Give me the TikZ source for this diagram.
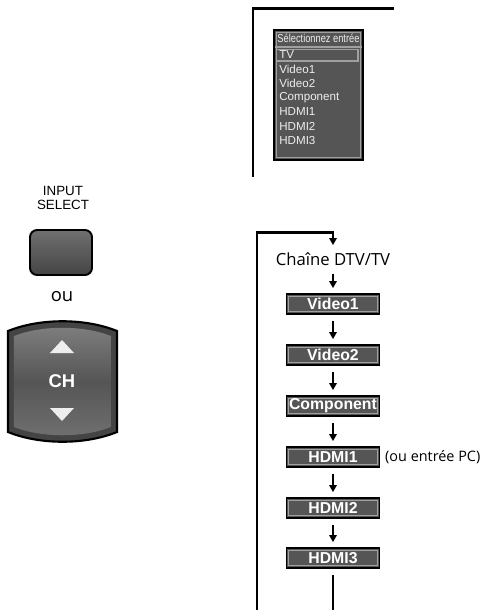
\documentclass[tikz,border=0pt]{standalone}
\usepackage{fontspec}
\setmainfont{Liberation Sans}
\newfontfamily\myriad{Open Sans}
\usetikzlibrary{arrows.meta,positioning,shapes.geometric}
\definecolor{panelgray}{RGB}{85,85,85}
\definecolor{edgegray}{RGB}{160,160,160}
\definecolor{keytop}{RGB}{112,112,112}
\definecolor{keybot}{RGB}{68,68,68}
\definecolor{menutext}{RGB}{238,238,238}

\begin{document}
\begin{tikzpicture}[x=0.02cm,y=-0.02cm,
  frame/.style={line width=1.7pt,line cap=rect},
  flow/.style={-{Triangle[length=4pt,width=4.2pt]},line width=1.2pt,
    shorten <=3.5pt,shorten >=3pt},
  srcbox/.style={rectangle,draw=black,line width=0.7pt,fill=panelgray,
    minimum width=1.86cm,minimum height=0.4cm,inner sep=0pt,
    font=\fontsize{9}{10}\selectfont\bfseries,text=white,
    path picture={\draw[edgegray,line width=0.7pt]
      ([shift={(1.3pt,-1.3pt)}]path picture bounding box.north west) rectangle
      ([shift={(-1.3pt,1.3pt)}]path picture bounding box.south east);}},
  item/.style={anchor=west,inner sep=0pt,text=menutext,
    font=\fontsize{6.6}{7}\selectfont},
  note/.style={font=\myriad\fontsize{9.5}{11}\selectfont,inner sep=1pt}
]
  \useasboundingbox (0,0) rectangle (485,610);

  % on-screen menu
  \draw[frame] (253,175) |- (393,8);
  \node[rectangle,draw=black,line width=1.1pt,fill=panelgray,
    minimum width=1.78cm,minimum height=2.6cm,inner sep=0pt,
    path picture={\draw[edgegray,line width=0.6pt]
      ([shift={(1.2pt,-1.2pt)}]path picture bounding box.north west) rectangle
      ([shift={(-1.2pt,1.2pt)}]path picture bounding box.south east);}]
    (menu) at (318.5,95) {};
  \node[inner sep=0pt,text=menutext,font=\fontsize{6.6}{7}\selectfont]
    (title) at (318.5,38) {\scalebox{0.8}[1]{Sélectionnez entrée}};
  \draw[edgegray,line width=0.8pt] (275,47) -- (362,47);
  \node[item] (tv) at (279,55) {TV};
  \draw[edgegray,line width=0.9pt] (276.5,49.5) rectangle (358,61);
  \node[item] (mvideo1) at (279,69) {Video1};
  \node[item] (mvideo2) at (279,83) {Video2};
  \node[item] (mcomp) at (279,98) {Component};
  \node[item] (mhdmi1) at (279,112) {HDMI1};
  \node[item] (mhdmi2) at (279,126) {HDMI2};
  \node[item] (mhdmi3) at (279,141) {HDMI3};

  % remote keys
  \node[align=center,inner sep=0pt,font=\fontsize{7.6}{7.6}\selectfont]
    (inputlbl) at (63,198) {INPUT\\SELECT};
  \node[rectangle,rounded corners=4pt,draw=black,line width=1.1pt,
    top color=keytop,bottom color=keybot,minimum width=1.24cm,
    minimum height=0.9cm] (inputkey) at (61,252.5) {};
  \node[font=\myriad\fontsize{10.5}{12}\selectfont] (ou) at (62,297) {ou};
  \draw[line width=1.2pt,fill=keybot]
    (8,331) .. controls (40,318) and (85,318) .. (117,331)
    -- (117,432) .. controls (85,445) and (40,445) .. (8,432) -- cycle;
  \shade[top color=keytop!90!white,bottom color=keytop,middle color=panelgray]
    (14,336) .. controls (42,325) and (83,325) .. (111,336)
    -- (111,427) .. controls (83,438) and (42,438) .. (14,427) -- cycle;
  \fill[menutext] (50,353) -- (74,353) -- (62,340) -- cycle;
  \fill[menutext] (50,408) -- (74,408) -- (62,421) -- cycle;
  \node[text=white,font=\fontsize{10.5}{12}\selectfont\bfseries]
    (ch) at (62,381) {CH};

  % input loop
  \node[note] (chaine) at (333,259) {Chaîne DTV/TV};
  \node[srcbox] (video1) at (333,304) {Video1};
  \node[srcbox] (video2) at (333,355) {Video2};
  \node[srcbox] (comp) at (333,406) {Component};
  \node[srcbox] (hdmi1) at (333,457) {HDMI1};
  \node[srcbox] (hdmi2) at (333,508) {HDMI2};
  \node[srcbox] (hdmi3) at (333,558) {HDMI3};
  \node[note,font=\myriad\fontsize{8.2}{10}\selectfont,anchor=west,
    right=0.06cm of hdmi1] (pc) {(ou entrée PC)};

  \coordinate (loopbot) at (257,610);
  \coordinate (looptop) at (333,232);
  \coordinate (flowend) at (333,610);
  \draw[frame] (loopbot) |- (looptop);
  \draw[flow,shorten <=0pt] (looptop) -- (chaine);
  \draw[flow] (chaine) -- (video1);
  \draw[flow] (video1) -- (video2);
  \draw[flow] (video2) -- (comp);
  \draw[flow] (comp) -- (hdmi1);
  \draw[flow] (hdmi1) -- (hdmi2);
  \draw[flow] (hdmi2) -- (hdmi3);
  \draw[line width=1.2pt,shorten <=3.5pt] (hdmi3) -- (flowend);
\end{tikzpicture}
\end{document}
